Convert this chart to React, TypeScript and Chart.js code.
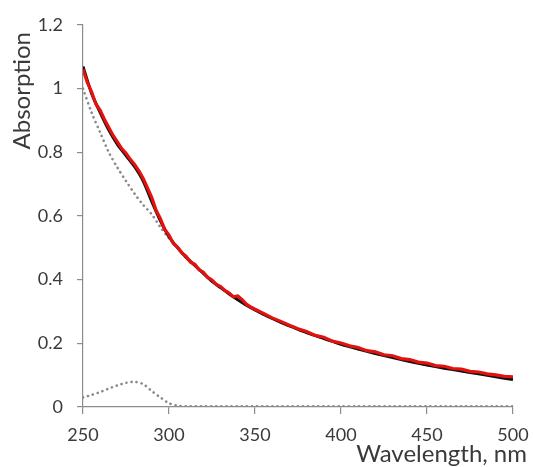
import React, { useEffect, useRef } from "react";
import { Chart, registerables } from "chart.js";

Chart.register(...registerables);

// Wavelength grid for the smooth curves (nm)
const wlFit = [250, 255, 260, 265, 270, 275, 280, 285, 290, 295, 300, 305, 310, 315, 320, 325, 330, 335, 340, 345, 350, 355, 360, 365, 370, 375, 380, 385, 390, 395, 400, 410, 420, 430, 440, 450, 460, 470, 480, 490, 500];

// Black curve (total)
const blackVals = [1.07, 0.985, 0.925, 0.87, 0.825, 0.79, 0.755, 0.71, 0.645, 0.585, 0.535, 0.5, 0.47, 0.445, 0.42, 0.395, 0.375, 0.355, 0.337, 0.32, 0.305, 0.291, 0.278, 0.266, 0.255, 0.244, 0.234, 0.224, 0.215, 0.206, 0.197, 0.182, 0.168, 0.155, 0.143, 0.132, 0.122, 0.113, 0.104, 0.095, 0.086];

// Grey dotted scattering fit
const scatterVals = [1.0, 0.925, 0.862, 0.8, 0.752, 0.71, 0.67, 0.635, 0.605, 0.565, 0.53, 0.5, 0.47, 0.445, 0.42, 0.395, 0.375, 0.355, 0.337, 0.32, 0.305, 0.291, 0.278, 0.266, 0.255, 0.244, 0.234, 0.224, 0.215, 0.206, 0.197, 0.182, 0.168, 0.155, 0.143, 0.132, 0.122, 0.113, 0.104, 0.095, 0.086];

// Grey dotted absorption band
const bandVals = [0.03, 0.038, 0.047, 0.058, 0.068, 0.076, 0.079, 0.072, 0.05, 0.03, 0.012, 0.004, 0.002, 0.002, 0.002, 0.002, 0.002, 0.002, 0.002, 0.002, 0.002, 0.002, 0.002, 0.002, 0.002, 0.002, 0.002, 0.002, 0.002, 0.002, 0.002, 0.002, 0.002, 0.002, 0.002, 0.002, 0.002, 0.002, 0.002, 0.002, 0.002];

// Red measured (noisy) curve
const wlRed = [250, 252.5, 255, 257.5, 260, 262.5, 265, 267.5, 270, 272.5, 275, 277.5, 280, 282.5, 285, 287.5, 290, 292.5, 295, 297.5, 300, 302.5, 305, 307.5, 310, 312.5, 315, 317.5, 320, 322.5, 325, 327.5, 330, 332.5, 335, 337.5, 340, 342.5, 345, 347.5, 350, 355, 360, 365, 370, 375, 380, 385, 390, 395, 400, 405, 410, 415, 420, 425, 430, 435, 440, 445, 450, 455, 460, 465, 470, 475, 480, 485, 490, 495, 500];
const redVals = [1.06, 1.02, 0.99, 0.952, 0.932, 0.903, 0.878, 0.853, 0.833, 0.812, 0.797, 0.778, 0.762, 0.742, 0.718, 0.688, 0.658, 0.618, 0.592, 0.558, 0.54, 0.514, 0.502, 0.484, 0.473, 0.455, 0.448, 0.431, 0.423, 0.407, 0.399, 0.385, 0.378, 0.366, 0.358, 0.346, 0.349, 0.337, 0.323, 0.314, 0.307, 0.294, 0.28, 0.269, 0.257, 0.246, 0.237, 0.225, 0.219, 0.207, 0.201, 0.192, 0.187, 0.177, 0.173, 0.164, 0.161, 0.152, 0.149, 0.141, 0.138, 0.13, 0.128, 0.121, 0.119, 0.112, 0.11, 0.104, 0.101, 0.096, 0.095];

const xTicksMin = 250;
const xTicksMax = 500;
const yTicksMin = 0;
const yTicksMax = 1.2;

const xTitle = "Wavelength, nm";
const yTitle = "Absorption";

const FONT = "Lato, 'Liberation Sans', sans-serif";
const TEXT = "#3a3a3a";
const AXIS = "#8c8c8c";

const toPts = (xs: number[], ys: number[]) => xs.map((x, i) => ({ x, y: ys[i] }));

const titlePlugin = {
  id: "axisTitlesCustom",
  afterDraw(chart: any) {
    const { ctx, chartArea } = chart;
    ctx.save();
    ctx.fillStyle = TEXT;
    ctx.font = `24px ${FONT}`;
    ctx.textAlign = "right";
    ctx.textBaseline = "alphabetic";
    ctx.fillText(xTitle, chartArea.right + 14, chartArea.bottom + 55);
    ctx.translate(chartArea.left - 61, chartArea.top + 7);
    ctx.rotate(-Math.PI / 2);
    ctx.textAlign = "right";
    ctx.textBaseline = "middle";
    ctx.fillText(yTitle, 0, 0);
    ctx.restore();
  },
};

export default function App() {
  const ref = useRef<HTMLCanvasElement>(null);
  useEffect(() => {
    if (!ref.current) return;
    const dotted = {
      borderColor: "#8a8a8a",
      borderWidth: 2.6,
      borderDash: [0.1, 5],
      borderCapStyle: "round" as const,
      pointRadius: 0,
      tension: 0.3,
      fill: false,
    };
    const chart = new Chart(ref.current, {
      type: "line",
      data: {
        datasets: [
          {
            label: "measured",
            data: toPts(wlRed, redVals),
            borderColor: "#e3120f",
            borderWidth: 3.2,
            pointRadius: 0,
            tension: 0,
            fill: false,
          },
          {
            label: "total",
            data: toPts(wlFit, blackVals),
            borderColor: "#111111",
            borderWidth: 3,
            pointRadius: 0,
            tension: 0.3,
            fill: false,
          },
          { label: "scattering", data: toPts(wlFit, scatterVals), ...dotted },
          { label: "band", data: toPts(wlFit, bandVals), ...dotted },
        ],
      },
      options: {
        responsive: false,
        animation: false,
        layout: { padding: { top: 25, right: 20, left: 0, bottom: 0 } },
        plugins: { legend: { display: false }, tooltip: { enabled: false } },
        scales: {
          x: {
            type: "linear",
            min: xTicksMin,
            max: xTicksMax,
            afterFit: (s: any) => {
              s.height = 60;
              s.paddingLeft = 0;
              s.paddingRight = 0;
            },
            border: { color: AXIS, width: 1.2 },
            grid: { drawOnChartArea: false, color: AXIS, tickLength: 7, lineWidth: 1.2 },
            ticks: { stepSize: 50, color: TEXT, font: { family: FONT, size: 18 }, padding: 10, maxRotation: 0 },
          },
          y: {
            min: yTicksMin,
            max: yTicksMax,
            afterFit: (s: any) => {
              s.width = 83;
              s.paddingTop = 0;
              s.paddingBottom = 0;
            },
            border: { color: AXIS, width: 1.2 },
            grid: { drawOnChartArea: false, color: AXIS, tickLength: 6, lineWidth: 1.2 },
            ticks: {
              stepSize: 0.2,
              color: TEXT,
              font: { family: FONT, size: 18 },
              padding: 14,
              callback: (v: any) => String(Number(Number(v).toFixed(1))),
            },
          },
        },
      },
      plugins: [titlePlugin],
    });
    return () => chart.destroy();
  }, []);
  return (
    <div style={{ position: "absolute", left: 0, top: 0, width: 533, height: 467, background: "#fff" }}>
      <canvas ref={ref} width={533} height={467} style={{ display: "block" }} />
    </div>
  );
}
